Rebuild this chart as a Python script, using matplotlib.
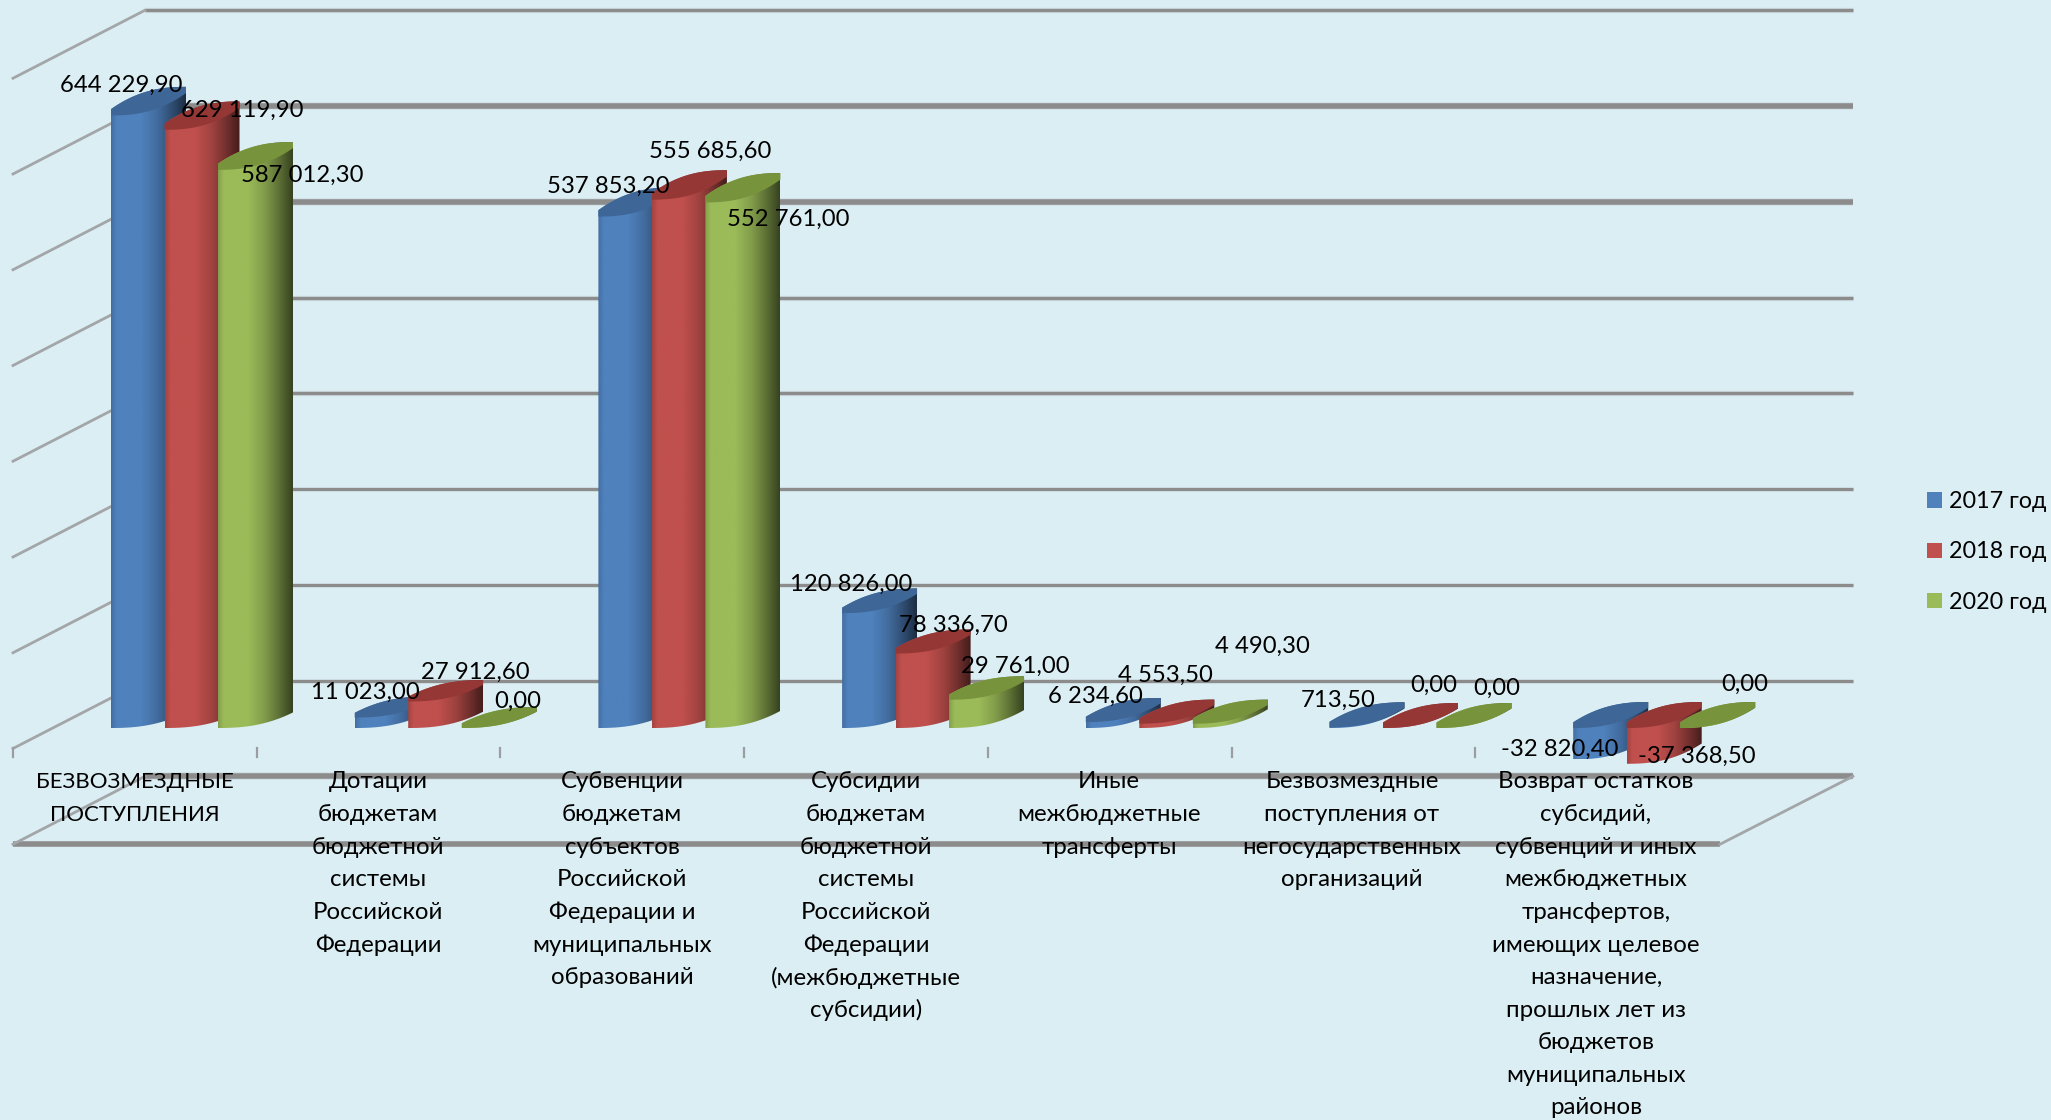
import numpy as np
import matplotlib
matplotlib.use("Agg")
import matplotlib.pyplot as plt
from matplotlib.patches import Patch, Polygon
from matplotlib.colors import to_rgb

plt.rcParams['font.family'] = ['Lato', 'Noto Sans', 'DejaVu Sans']

categories = [
    "БЕЗВОЗМЕЗДНЫЕ\nПОСТУПЛЕНИЯ",
    "Дотации\nбюджетам\nбюджетной\nсистемы\nРоссийской\nФедерации",
    "Субвенции\nбюджетам\nсубъектов\nРоссийской\nФедерации и\nмуниципальных\nобразований",
    "Субсидии\nбюджетам\nбюджетной\nсистемы\nРоссийской\nФедерации\n(межбюджетные\nсубсидии)",
    "Иные\nмежбюджетные\nтрансферты",
    "Безвозмездные\nпоступления от\nнегосударственных\nорганизаций",
    "Возврат остатков\nсубсидий,\nсубвенций и иных\nмежбюджетных\nтрансфертов,\nимеющих целевое\nназначение,\nпрошлых лет из\nбюджетов\nмуниципальных\nрайонов",
]
series_names = ["2017 год", "2018 год", "2020 год"]
values_2017 = [644229.90, 11023.00, 537853.20, 120826.00, 6234.60, 713.50, -32820.40]
values_2018 = [629119.90, 27912.60, 555685.60, 78336.70, 4553.50, 0.00, -37368.50]
values_2020 = [587012.30, 0.00, 552761.00, 29761.00, 4490.30, 0.00, 0.00]
grid_values = [-100000, 0, 100000, 200000, 300000, 400000, 500000, 600000, 700000]
grid_widths = [4, 2.2, 2.2, 2.2, 2.4, 2.4, 4, 4, 2.4]

# layout only, in pixels
label_px = [
    [(121, 85), (242, 110), (302, 175)],
    [(365, 692), (475, 672), (518, 701)],
    [(608, 186), (710, 151), (788, 219)],
    [(851, 584), (953, 625), (1015, 666)],
    [(1095, 696), (1165, 675), (1262, 646)],
    [(1338, 700), (1434, 685), (1497, 688)],
    [(1560, 749), (1697, 756), (1745, 684)],
]
category_px = [135, 378, 622, 866, 1109, 1352, 1596]
category_size = [16.0, 17.3, 17.3, 17.3, 17.3, 17.3, 17.3]

W, H = 2051, 1120
BG = "#DBEEF4"
PX_PER_VAL = 0.9575 / 1000
Y0 = 680.5          # pixel row of value 0 on the back wall
CAT_STEP = 243.7
CAT_X0 = 148.5      # pixel column of the first bar's centre
BAR_STEP = 53.5
HALF_W = 37.5
FLOOR_PY = 728      # lowest pixel row of the bars' base lens
LENS_POWER = 2.4
LENS_SPAN = 0.78

front = ["#4F81BD", "#C0504D", "#9BBB59"]
caps = ["#3E6696", "#953735", "#77933C"]


def vy(py):
    return (Y0 - py) / PX_PER_VAL


def cx(px):
    return (px - CAT_X0) / CAT_STEP


fig = plt.figure(figsize=(W / 100, H / 100), dpi=100, facecolor=BG)
ax = fig.add_axes([0, 0, 1, 1], facecolor=BG)
xl, yl = (cx(0), cx(W)), (vy(H), vy(0))
ax.axis("off")

bar_dx = BAR_STEP / CAT_STEP
wall_dx = 132 / CAT_STEP
wall_dy = 68 / PX_PER_VAL
wall_x = cx(145)
right_x = cx(1853)

# walls and floor
for gv, lw in zip(grid_values, grid_widths):
    ax.plot([wall_x, right_x], [gv, gv], color="#8C8C8C", lw=lw, solid_capstyle="butt", zorder=1)
    ax.plot([wall_x, right_x], [gv, gv], color="#B9C4C8", lw=lw + 1.5, alpha=.35, solid_capstyle="butt", zorder=.9)
    if gv >= 0:
        ax.plot([wall_x - wall_dx, wall_x], [gv - wall_dy, gv], color="#A3A6A8", lw=2.0, zorder=1)
fl = grid_values[0]
ax.plot([wall_x - wall_dx, cx(1720)], [fl - wall_dy, fl - wall_dy], color="#8C8C8C", lw=4,
        solid_capstyle="butt", zorder=1)
ax.plot([wall_x - wall_dx, wall_x], [fl - wall_dy, fl], color="#A3A6A8", lw=2.0, zorder=1)
ax.plot([cx(1720), right_x], [fl - wall_dy, fl], color="#A3A6A8", lw=2.0, zorder=1)

# category ticks
for i in range(7):
    tx = cx(13 + 243.7 * i)
    ax.plot([tx, tx], [vy(748), vy(757)], color="#9A9EA0", lw=1.6, zorder=1)


def lens_height(i, v):
    """Full height of the slanted lens of a cylinder, in pixels."""
    return 20.0 + 1.0 * i + 8.0 * max(v, 0) / 600000


U = np.linspace(0, 1, 60)


def lower_arc(c_x, c_v, h):
    x = c_x + (2 * U - 1) * HALF_W / CAT_STEP
    return np.c_[x, c_v + (LENS_SPAN * U ** LENS_POWER - .5) * h / PX_PER_VAL]


def upper_arc(c_x, c_v, h):
    x = c_x + (2 * U - 1) * HALF_W / CAT_STEP
    return np.c_[x, c_v + (.5 - LENS_SPAN * (1 - U) ** LENS_POWER) * h / PX_PER_VAL]


def gradient(color):
    stops = np.array([0, .07, .4, .62, .82, 1.0])
    fac = np.array([.86, 1, 1, .84, .6, .36])
    f = np.linspace(0, 1, 64)
    k = np.interp(f, stops, fac)
    return (np.array(to_rgb(color))[None, None, :] * k[None, :, None]).clip(0, 1)


all_values = [values_2017, values_2018, values_2020]
z = 5.0
for i in range(7):
    for s in range(3):
        v = all_values[s][i]
        c_x = i + s * bar_dx
        h0 = lens_height(i, 0)
        ht = lens_height(i, v)
        zero_v = vy(FLOOR_PY - h0 / 2)
        top_v = zero_v + max(v, 0)
        low_v = zero_v + min(v, 0)
        body = np.vstack([lower_arc(c_x, low_v, h0), upper_arc(c_x, top_v, ht)[::-1]])
        xmin, xmax = body[:, 0].min(), body[:, 0].max()
        poly = Polygon(body, closed=True, facecolor="none", edgecolor="none", zorder=z)
        ax.add_patch(poly)
        im = ax.imshow(gradient(front[s]), extent=(xmin, xmax, body[:, 1].min(), body[:, 1].max()),
                       aspect="auto", interpolation="bilinear", zorder=z, origin="lower")
        im.set_clip_path(poly)
        cap = np.vstack([lower_arc(c_x, top_v, ht), upper_arc(c_x, top_v, ht)[::-1]])
        ax.add_patch(Polygon(cap, closed=True, facecolor=caps[s], edgecolor="none", zorder=z + .1))
        z += .2


def fmt(v):
    sign = "-" if v < 0 else ""
    whole, frac = f"{abs(v):.2f}".split(".")
    groups = []
    while len(whole) > 3:
        groups.insert(0, whole[-3:])
        whole = whole[:-3]
    groups.insert(0, whole)
    return sign + " ".join(groups) + "," + frac


for i in range(7):
    for s in range(3):
        px, py = label_px[i][s]
        ax.text(cx(px), vy(py), fmt(all_values[s][i]), ha="center", va="center",
                fontsize=17.2, color="black", zorder=50)

# category labels
LINE = 32.6
for cat, c, fs in zip(categories, category_px, category_size):
    for n, line in enumerate(cat.split("\n")):
        ax.text(cx(c), vy(782 + n * LINE), line, ha="center", va="center", fontsize=fs,
                color="black", zorder=50)

handles = [Patch(facecolor=c, edgecolor="none") for c in front]
ax.legend(handles, series_names, loc="center left", frameon=False, fontsize=16.8,
          bbox_to_anchor=(1927 / W, 1 - 552 / H), bbox_transform=fig.transFigure,
          handlelength=.64, handleheight=.64, handletextpad=.3, labelspacing=1.26,
          borderpad=0, borderaxespad=0)

ax.set_xlim(*xl)
ax.set_ylim(*yl)
fig.savefig("out.png", dpi=100, facecolor=BG)
